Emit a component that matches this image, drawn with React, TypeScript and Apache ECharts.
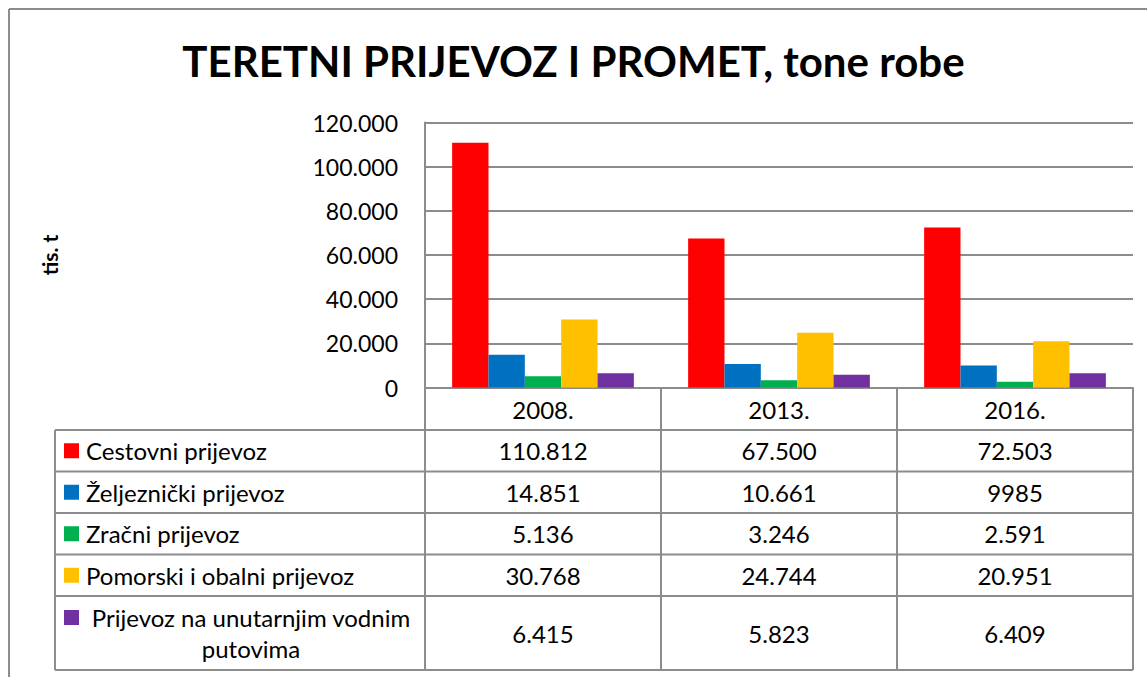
import React, { useEffect, useRef } from "react";
import * as echarts from "echarts";

const TITLE = "TERETNI PRIJEVOZ I PROMET, tone robe";
const Y_NAME = "tis. t";
const years = ["2008.", "2013.", "2016."];
const seriesNames = [
  "Cestovni prijevoz",
  "Željeznički prijevoz",
  "Zračni prijevoz",
  "Pomorski i obalni prijevoz",
  "Prijevoz na unutarnjim vodnim putovima",
];
// values as printed in the data table (thousands of tonnes)
const cestovni = ["110.812", "67.500", "72.503"];
const zeljeznicki = ["14.851", "10.661", "9985"];
const zracni = ["5.136", "3.246", "2.591"];
const pomorski = ["30.768", "24.744", "20.951"];
const unutarnji = ["6.415", "5.823", "6.409"];
const tableTexts = [cestovni, zeljeznicki, zracni, pomorski, unutarnji];
const palette = ["#FF0000", "#0070C0", "#00B050", "#FFC000", "#7030A0"];
const yTicks = { min: 0, max: 120000, interval: 20000 };

const parseVal = (s: string) => Number(s.replace(/\./g, ""));
const fmt = (v: number) => String(v).replace(/\B(?=(\d{3})+(?!\d))/g, ".");
const wrap = (s: string, max: number) => {
  const words = s.split(" ");
  const lines: string[] = [];
  let cur = "";
  for (const w of words) {
    const t = cur ? cur + " " + w : w;
    if (t.length > max && cur) {
      lines.push(cur);
      cur = w;
    } else cur = t;
  }
  if (cur) lines.push(cur);
  return lines;
};

const FONT = 'Lato, "Liberation Sans", Arial, sans-serif';
const LINE = "#8c8c8c";

export default function App() {
  const ref = useRef<HTMLDivElement>(null);
  useEffect(() => {
    document.body.style.margin = "0";
    const chart = echarts.init(ref.current!, null, { renderer: "svg" });
    const lineStyle = { color: LINE, width: 2 };
    chart.setOption({
      animation: false,
      backgroundColor: "#ffffff",
      title: {
        text: TITLE,
        left: "center",
        top: 35,
        textStyle: { fontFamily: FONT, fontWeight: "bold", fontSize: 42, color: "#000" },
      },
      grid: { left: 425, right: 14, top: 122.5, bottom: 289.5 },
      xAxis: {
        type: "category",
        data: years,
        axisLine: { show: true, lineStyle },
        axisTick: { show: false },
        axisLabel: { show: false },
      },
      yAxis: {
        type: "value",
        min: yTicks.min,
        max: yTicks.max,
        interval: yTicks.interval,
        name: Y_NAME,
        nameLocation: "middle",
        nameRotate: 90,
        nameGap: 365,
        nameTextStyle: { fontFamily: FONT, fontWeight: "bold", fontSize: 21, color: "#000" },
        axisLine: { show: true, lineStyle },
        axisTick: { show: false },
        splitLine: { show: true, lineStyle },
        axisLabel: {
          formatter: (v: number) => fmt(v),
          fontFamily: FONT,
          fontSize: 23,
          color: "#000",
          margin: 27,
        },
      },
      series: seriesNames.map((n, i) => ({
        type: "bar",
        name: n,
        data: tableTexts[i].map(parseVal),
        itemStyle: { color: palette[i] },
        barGap: "0%",
        barCategoryGap: "23%",
      })),
    });

    // data table below the axis, aligned to the category bands
    const centers = years.map((_, i) => chart.convertToPixel({ xAxisIndex: 0 }, i) as number);
    const half = (centers[1] - centers[0]) / 2;
    const colEdges = [centers[0] - half, ...centers.map((c) => c + half)];
    const tableLeft = 55;
    const right = colEdges[colEdges.length - 1];
    const headerTop = 388.5;
    const rowH = 41.5;
    const labelLines = seriesNames.map((n) => wrap(n, 30));
    const rowTops: number[] = [headerTop + rowH];
    labelLines.forEach((ls, i) => {
      const h = ls.length > 1 ? 74 : rowH;
      rowTops.push(rowTops[i] + h);
    });
    const bottom = rowTops[rowTops.length - 1];
    const g: any[] = [];
    const ln = (x1: number, y1: number, x2: number, y2: number) =>
      g.push({ type: "line", silent: true, shape: { x1, y1, x2, y2 }, style: { stroke: LINE, lineWidth: 2 } });
    // outer border
    ln(9, 9, 1147, 9);
    ln(9, 9, 9, 677);
    // horizontal lines
    rowTops.forEach((y) => ln(tableLeft, y, right, y));
    ln(tableLeft, rowTops[0], tableLeft, bottom);
    colEdges.forEach((x) => ln(x, headerTop, x, bottom));
    const txt = (text: string, x: number, y: number, align: string) =>
      g.push({
        type: "text",
        silent: true,
        x,
        y,
        style: { text, fill: "#000", fontFamily: FONT, fontSize: 24, align, verticalAlign: "middle", lineHeight: 31 },
      });
    years.forEach((yr, c) => txt(yr, centers[c], (headerTop + rowTops[0]) / 2, "center"));
    labelLines.forEach((ls, i) => {
      const top = rowTops[i];
      const bot = rowTops[i + 1];
      const mid = (top + bot) / 2;
      const firstY = ls.length > 1 ? mid - 15.5 * (ls.length - 1) : mid;
      g.push({
        type: "rect",
        silent: true,
        shape: { x: 64, y: firstY - 7.5, width: 15, height: 15 },
        style: { fill: palette[i] },
      });
      if (ls.length > 1) txt(ls.join("\n"), 251, mid, "center");
      else txt(ls[0], 86, mid, "left");
      tableTexts[i].forEach((t, c) => txt(t, centers[c], mid, "center"));
    });
    chart.setOption({ graphic: g });
    return () => chart.dispose();
  }, []);
  return <div ref={ref} style={{ width: 1147, height: 677 }} />;
}
